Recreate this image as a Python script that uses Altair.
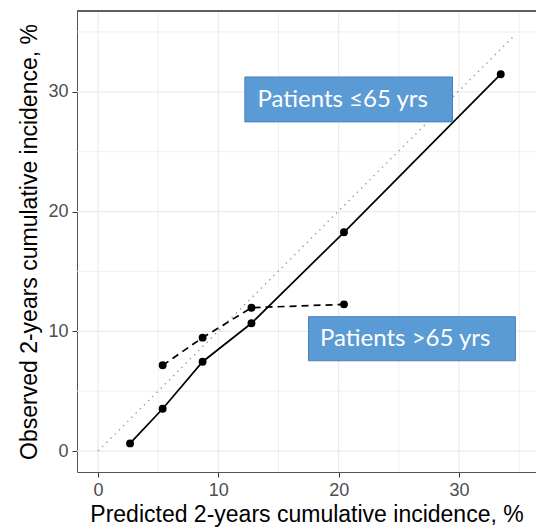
import altair as alt
import pandas as pd

# Patients <=65 yrs (solid)
young_pred = [2.66, 5.37, 8.69, 12.75, 20.44, 33.47]
young_obs = [0.64, 3.53, 7.46, 10.67, 18.27, 31.47]
# Patients >65 yrs (dashed)
old_pred = [5.37, 8.69, 12.75, 20.44]
old_obs = [7.16, 9.47, 11.97, 12.25]
# reference diagonal
diag_start = [0.0, 0.0]
diag_end = [34.7, 34.8]
# grid lines
grid_major = [0, 10, 20, 30]
grid_minor = [5, 15, 25, 35]
tick_vals = [0, 10, 20, 30]
# annotation boxes
box_labels = ["Patients ≤65 yrs", "Patients >65 yrs"]
box_x1 = [12.2, 17.49]
box_x2 = [29.46, 34.69]
box_y1 = [27.49, 7.54]
box_y2 = [31.24, 11.22]
text_x = [13.25, 18.45]
text_y = [29.33, 9.33]

W, H = 459, 461
xdom = [-1.75, 36.4]
ydom = [-1.75, 36.75]
xs = alt.Scale(domain=xdom, nice=False, zero=False)
ys = alt.Scale(domain=ydom, nice=False, zero=False)

young = pd.DataFrame({"x": young_pred, "y": young_obs})
old = pd.DataFrame({"x": old_pred, "y": old_obs})
diag = pd.DataFrame({"x": [diag_start[0]], "y": [diag_start[1]], "x2": [diag_end[0]], "y2": [diag_end[1]]})
gmaj = pd.DataFrame({"v": grid_major})
gmin = pd.DataFrame({"v": grid_minor})
boxes = pd.DataFrame({"label": box_labels, "x1": box_x1, "x2": box_x2, "y1": box_y1, "y2": box_y2,
                      "tx": text_x, "ty": text_y})

grid_col = "#ebebeb"
vmaj = alt.Chart(gmaj).mark_rule(color=grid_col, strokeWidth=1.2).encode(
    x=alt.X("v:Q", scale=xs, axis=alt.Axis(values=tick_vals, title="Predicted 2-years cumulative incidence, %")))
hmaj = alt.Chart(gmaj).mark_rule(color=grid_col, strokeWidth=1.2).encode(
    y=alt.Y("v:Q", scale=ys, axis=alt.Axis(values=tick_vals, title="Observed 2-years cumulative incidence, %")))
vmin = alt.Chart(gmin).mark_rule(color=grid_col, strokeWidth=0.8).encode(x=alt.X("v:Q", scale=xs))
hmin = alt.Chart(gmin).mark_rule(color=grid_col, strokeWidth=0.8).encode(y=alt.Y("v:Q", scale=ys))

diag_line = alt.Chart(diag).mark_rule(color="#9a9a9a", strokeWidth=1.4, strokeDash=[1.4, 4.5]).encode(
    x=alt.X("x:Q", scale=xs), y=alt.Y("y:Q", scale=ys), x2="x2:Q", y2="y2:Q")

young_line = alt.Chart(young).mark_line(color="black", strokeWidth=1.7).encode(
    x=alt.X("x:Q", scale=xs), y=alt.Y("y:Q", scale=ys))
young_pts = alt.Chart(young).mark_circle(color="black", size=62, opacity=1).encode(
    x=alt.X("x:Q", scale=xs), y=alt.Y("y:Q", scale=ys))
old_line = alt.Chart(old).mark_line(color="black", strokeWidth=1.7, strokeDash=[7, 5]).encode(
    x=alt.X("x:Q", scale=xs), y=alt.Y("y:Q", scale=ys))
old_pts = alt.Chart(old).mark_circle(color="black", size=62, opacity=1).encode(
    x=alt.X("x:Q", scale=xs), y=alt.Y("y:Q", scale=ys))

box_rect = alt.Chart(boxes).mark_rect(color="#5b9bd5", stroke="#4a80b8", strokeWidth=1).encode(
    x=alt.X("x1:Q", scale=xs), x2="x2:Q", y=alt.Y("y1:Q", scale=ys), y2="y2:Q")
box_text = alt.Chart(boxes).mark_text(color="white", font="Lato", fontSize=24, align="left",
                                      baseline="middle").encode(
    x=alt.X("tx:Q", scale=xs), y=alt.Y("ty:Q", scale=ys), text="label:N")

top_border = alt.Chart(gmaj).mark_rule(color="#555555", strokeWidth=1).encode(
    y=alt.value(0), x=alt.value(0), x2=alt.value(W))

chart = alt.layer(vmin, hmin, vmaj, hmaj, diag_line, young_line, old_line, young_pts, old_pts,
                  box_rect, box_text, top_border).properties(
    width=W, height=H,
    autosize=alt.AutoSizeParams(type="none"),
    padding={"left": 77, "top": 11, "right": 0, "bottom": 57},
).configure_view(stroke=None).configure_axis(
    grid=False,
    domainColor="#555555", domainWidth=1,
    tickColor="#333333", tickSize=5, tickWidth=1,
    labelColor="#4d4d4d", labelFont="Liberation Sans", labelFontSize=18, labelPadding=4,
    titleColor="black", titleFont="Liberation Sans", titleFontSize=23, titleFontWeight="normal",
).configure_axisX(titlePadding=4).configure_axisY(titlePadding=6)

chart.save("out.html", embed_options={"renderer": "svg", "actions": False})
